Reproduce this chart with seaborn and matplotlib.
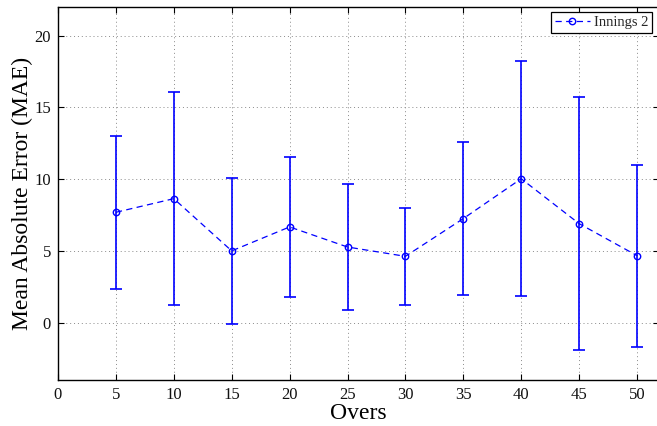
import matplotlib
matplotlib.use("Agg")
import matplotlib.pyplot as plt
import seaborn as sns
import pandas as pd

# Mean absolute error per overs bucket, second innings
overs = [5, 10, 15, 20, 25, 30, 35, 40, 45, 50]
mae = [7.69, 8.64, 5.00, 6.67, 5.27, 4.62, 7.25, 10.03, 6.90, 4.67]
mae_std = [5.34, 7.43, 5.10, 4.85, 4.39, 3.37, 5.33, 8.20, 8.83, 6.35]
series_label = "Innings 2"

xticks = [0, 5, 10, 15, 20, 25, 30, 35, 40, 45, 50]
yticks = [0, 5, 10, 15, 20]

sns.set_theme(style="white")
plt.rcParams["font.family"] = ["Liberation Serif", "DejaVu Serif"]

df = pd.DataFrame({"Overs": overs, "MAE": mae, "std": mae_std})

fig = plt.figure(figsize=(6.57, 4.26), dpi=100)
ax = fig.add_axes([58 / 657, 1 - 380 / 426, (659 - 58) / 657, (380 - 7) / 426])

blue = "#0000ff"

ax.errorbar(df["Overs"], df["MAE"], yerr=df["std"], fmt="none",
            ecolor=blue, elinewidth=1.2, capsize=4, capthick=1.2, zorder=3)

sns.lineplot(data=df, x="Overs", y="MAE", ax=ax, color=blue,
             linestyle=(0, (5, 3.5)), linewidth=0.9, marker="o",
             markersize=4.6, markerfacecolor="none", markeredgecolor=blue,
             markeredgewidth=1.0, label=series_label, zorder=4)

ax.set_xlim(0, (659 - 58) / 11.58)
ax.set_ylim(-4, 22)
ax.set_xticks(xticks)
ax.set_yticks(yticks)
ax.set_xticklabels([str(t) for t in xticks])
ax.set_yticklabels([str(t) for t in yticks])

ax.grid(True, linestyle=(0, (1, 3)), color="#8a8a8a", linewidth=0.7)
ax.set_axisbelow(True)
for s in ax.spines.values():
    s.set_color("black")
    s.set_linewidth(1.0)
ax.spines["right"].set_visible(False)

ax.tick_params(axis="both", which="both", direction="in", length=4,
               width=0.8, color="black", top=True, right=True,
               bottom=True, left=True, labelsize=12, pad=5,
               labelcolor="#111111")

ax.set_xlabel("Overs", fontsize=17, labelpad=0, color="black")
ax.set_ylabel("Mean Absolute Error (MAE)", fontsize=17, labelpad=1,
              color="black")

leg = ax.legend(loc="upper right", bbox_to_anchor=((652 - 58) / 601, 1 - 5 / 373),
                fontsize=10.5, frameon=True, fancybox=False, framealpha=1,
                edgecolor="black", borderpad=0.25, handlelength=2.4,
                handletextpad=0.3, borderaxespad=0)
leg.get_frame().set_linewidth(0.9)

fig.savefig("out.png", dpi=100)
